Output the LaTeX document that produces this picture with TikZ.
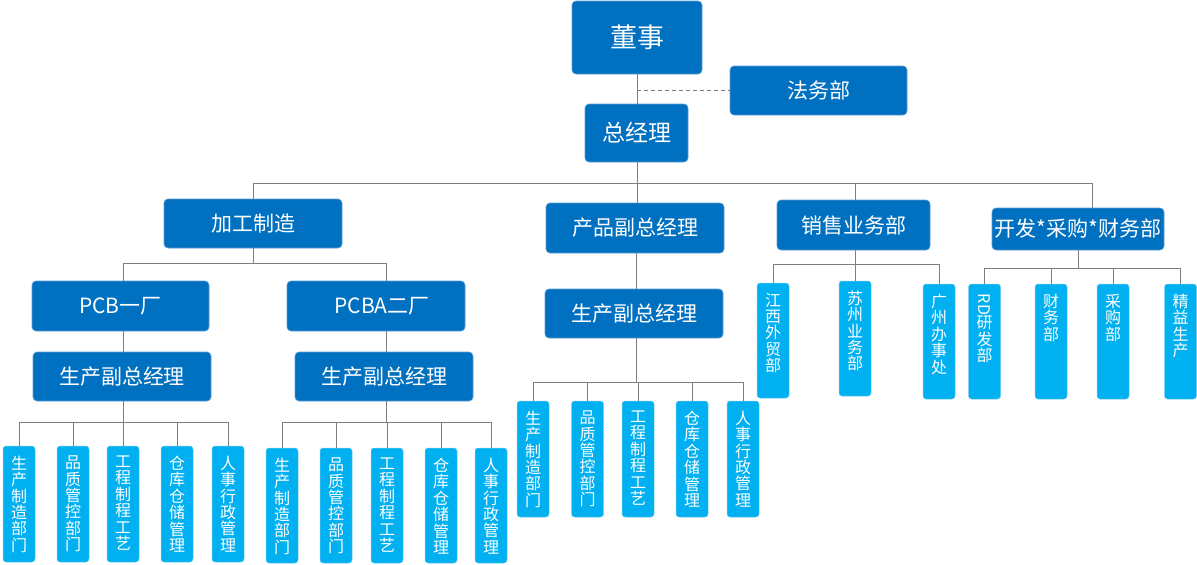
\documentclass[tikz,border=0pt]{standalone}
\usepackage{fontspec}
\usepackage{graphicx}
\newfontfamily\cjk{Noto Sans CJK SC}
\definecolor{dkblue}{HTML}{0070C0}
\definecolor{dkedge}{HTML}{5B9BD5}
\definecolor{ltblue}{HTML}{00B0F0}
\definecolor{ltedge}{HTML}{6FCBF3}
\definecolor{linegray}{HTML}{7F7F7F}
\tikzset{
  mainbox/.style={fill=dkblue, draw=dkedge, line width=0.6pt, rounded corners=4pt, text=white, inner sep=0pt, font=\cjk\fontsize{21}{24}\selectfont},
  subbox/.style={fill=ltblue, draw=ltedge, line width=0.5pt, rounded corners=3pt, inner sep=0pt, minimum width=32},
  vtext/.style={text=white, inner sep=0pt, align=center, font=\cjk\fontsize{16}{16.4}\selectfont},
  conn/.style={draw=linegray, line width=0.9pt},
}
\newcommand{\kid}[6]{% name, x, y, h, text
  \node[subbox, minimum height=#4, label={[vtext, anchor=north, yshift=-10pt]north:{#5}}] (#1) at (#2,#3) {};
}
\begin{document}
\begin{tikzpicture}[x=1pt,y=-1pt]
\useasboundingbox (0,0) rectangle (1197,565);

% top
\node[mainbox, minimum width=130, minimum height=73, font=\cjk\fontsize{27}{30}\selectfont] (ds) at (637,37.5) {董事};
\node[mainbox, minimum width=177, minimum height=49] (fw) at (818.5,90.5) {法务部};
\node[mainbox, minimum width=103, minimum height=58, font=\cjk\fontsize{23}{26}\selectfont] (zjl) at (636.5,133) {总经理};

% level 2
\node[mainbox, minimum width=178, minimum height=49] (jg) at (253,223.5) {加工制造};
\node[mainbox, minimum width=178, minimum height=50] (cp) at (635,228) {产品副总经理};
\node[mainbox, minimum width=153, minimum height=50] (xs) at (853.5,225) {销售业务部};
\node[mainbox, minimum width=172, minimum height=42] (kf) at (1078,229) {开发*采购*财务部};

% level 3
\node[mainbox, minimum width=177, minimum height=50] (pcb) at (120.5,306) {PCB一厂};
\node[mainbox, minimum width=178, minimum height=50] (pcba) at (376,306) {\hspace*{12pt}PCBA二厂};
\node[mainbox, minimum width=178, minimum height=49] (sc1) at (122,376.5) {生产副总经理};
\node[mainbox, minimum width=178, minimum height=49] (sc2) at (384,376.5) {生产副总经理};
\node[mainbox, minimum width=178, minimum height=49] (sc3) at (634,313.5) {生产副总经理};

% children left group
\kid{a1}{19}{504}{116}{生\\产\\制\\造\\部\\门}{}
\kid{a2}{73}{504}{116}{品\\质\\管\\控\\部\\门}{}
\kid{a3}{123}{504}{116}{工\\程\\制\\程\\工\\艺}{}
\kid{a4}{177}{504}{116}{仓\\库\\仓\\储\\管\\理}{}
\kid{a5}{228}{504}{116}{人\\事\\行\\政\\管\\理}{}
% children second group
\kid{b1}{282}{505.5}{115}{生\\产\\制\\造\\部\\门}{}
\kid{b2}{336}{505.5}{115}{品\\质\\管\\控\\部\\门}{}
\kid{b3}{387}{505.5}{115}{工\\程\\制\\程\\工\\艺}{}
\kid{b4}{441}{505.5}{115}{仓\\库\\仓\\储\\管\\理}{}
\kid{b5}{491}{505.5}{115}{人\\事\\行\\政\\管\\理}{}
% children middle group
\kid{c1}{533}{459}{116}{生\\产\\制\\造\\部\\门}{}
\kid{c2}{587.5}{459}{116}{品\\质\\管\\控\\部\\门}{}
\kid{c3}{638}{459}{116}{工\\程\\制\\程\\工\\艺}{}
\kid{c4}{692}{459}{116}{仓\\库\\仓\\储\\管\\理}{}
\kid{c5}{743}{459}{116}{人\\事\\行\\政\\管\\理}{}
% sales children
\kid{d1}{773}{340.5}{115}{江\\西\\外\\贸\\部}{}
\kid{d2}{855}{338.5}{115}{苏\\州\\业\\务\\部}{}
\kid{d3}{939}{341.5}{115}{广\\州\\办\\事\\处}{}
% dev children
\kid{e1}{984.5}{341.5}{115}{\rotatebox{-90}{RD}\\研\\发\\部}{}
\kid{e2}{1051}{341.5}{115}{财\\务\\部}{}
\kid{e3}{1113}{341.5}{115}{采\\购\\部}{}
\kid{e4}{1180.5}{341.5}{115}{精\\益\\生\\产}{}

% connectors top
\draw[conn] (ds.south) -- (zjl.north -| ds.south);
\coordinate (fwj) at (ds.south |- fw.west);
\draw[conn, dashed, dash pattern=on 4pt off 3pt] (fwj) -- (fw.west);
\draw[conn] (zjl.south -| ds.south) -- (ds.south |- 0,183);
\draw[conn] (jg.north) -- (jg.north |- 0,183) -- ([xshift=14pt]kf.north |- 0,183) -- ([xshift=14pt]kf.north);
\draw[conn] (cp.north -| ds.south) -- (ds.south |- 0,183);
\draw[conn] ([xshift=1.5pt]xs.north) -- ([xshift=1.5pt]xs.north |- 0,183);

% 加工制造 branch
\draw[conn] (jg.south) -- (jg.south |- 0,263) -| ([xshift=2.5pt]pcb.north);
\draw[conn] (jg.south |- 0,263) -| ([xshift=10pt]pcba.north);
\draw[conn] ([xshift=1pt]sc1.north |- pcb.south) -- ([xshift=1pt]sc1.north);
\draw[conn] ([xshift=2pt]sc2.north |- pcba.south) -- ([xshift=2pt]sc2.north);
% left group
\draw[conn] ([xshift=1pt]sc1.south) -- ([xshift=1pt]sc1.south |- 0,422);
\foreach \k in {a1,a2,a3,a4,a5}{\draw[conn] (sc1.south |- 0,422) -| (\k.north);}
\draw[conn] ([xshift=2pt]sc2.south) -- ([xshift=2pt]sc2.south |- 0,422);
\foreach \k in {b1,b2,b3,b4,b5}{\draw[conn] ([xshift=2pt]sc2.south |- 0,422) -| (\k.north);}

% 产品 branch
\draw[conn] ([xshift=1pt]cp.south) -- ([xshift=1pt]cp.south |- sc3.north);
\draw[conn] ([xshift=2pt]sc3.south) -- ([xshift=2pt]sc3.south |- 0,382);
\foreach \k in {c1,c2,c3,c4,c5}{\draw[conn] ([xshift=2pt]sc3.south |- 0,382) -| (\k.north);}

% sales branch
\draw[conn] ([xshift=1.5pt]xs.south) -- ([xshift=1.5pt]xs.south |- 0,264);
\foreach \k in {d1,d2,d3}{\draw[conn] ([xshift=1.5pt]xs.south |- 0,264) -| (\k.north);}

% dev branch
\draw[conn] (kf.south) -- (kf.south |- 0,268);
\foreach \k in {e1,e2,e3,e4}{\draw[conn] (kf.south |- 0,268) -| (\k.north);}
\end{tikzpicture}
\end{document}
